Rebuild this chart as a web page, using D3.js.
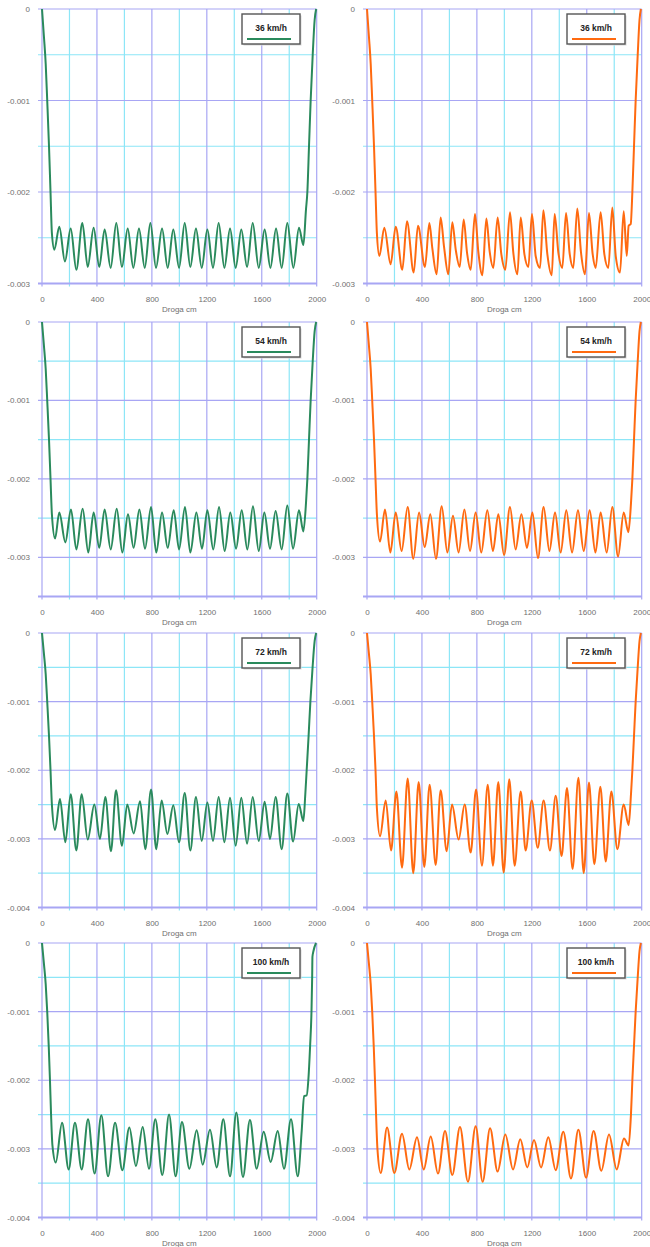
<!DOCTYPE html>
<html>
<head>
<meta charset="utf-8">
<title>Droga cm - 8 wykresow</title>
<script src="https://d3js.org/d3.v7.min.js"></script>
<style>
  body { margin: 0; background: #fff; }
  svg { display: block; font-family: "Liberation Sans", Arial, sans-serif; }
  .lbl { fill: #6f6f6f; font-size: 8px; }
  .leg { fill: #222; font-size: 8.5px; font-weight: bold; }
</style>
</head>
<body>
<svg width="650" height="1247"></svg>
<script>
// values of y are in units of 0.001
var UNIT = 0.001;
var speeds = ["36 km/h", "54 km/h", "72 km/h", "100 km/h"];
var xMajor = [0, 400, 800, 1200, 1600, 2000];
var xMinor = [200, 600, 1000, 1400, 1800];
var yMinByRow = [-3, -3.5, -4, -4];
var yMajorByRow = [[0, -1, -2, -3], [0, -1, -2, -3], [0, -1, -2, -3, -4], [0, -1, -2, -3, -4]];
var yMinorByRow = [[-0.5, -1.5, -2.5], [-0.5, -1.5, -2.5], [-0.5, -1.5, -2.5, -3.5], [-0.5, -1.5, -2.5, -3.5]];

// left column (green)
var green36 = [[0,0],[14,-0.3],[27,-0.6],[38,-1.0],[51,-1.5],[62,-2.0],[72,-2.45],[90,-2.63],[126,-2.38],[167,-2.76],[209,-2.40],[250,-2.85],[294,-2.34],[333,-2.82],[376,-2.39],[417,-2.82],[456,-2.41],[500,-2.83],[541,-2.34],[582,-2.82],[624,-2.40],[665,-2.83],[706,-2.40],[748,-2.83],[789,-2.34],[830,-2.83],[874,-2.40],[915,-2.83],[956,-2.41],[998,-2.83],[1039,-2.34],[1080,-2.82],[1121,-2.40],[1163,-2.83],[1204,-2.41],[1245,-2.83],[1286,-2.34],[1328,-2.83],[1369,-2.40],[1410,-2.83],[1451,-2.41],[1493,-2.82],[1534,-2.34],[1578,-2.83],[1621,-2.41],[1663,-2.83],[1704,-2.40],[1745,-2.83],[1786,-2.34],[1830,-2.83],[1871,-2.39],[1903,-2.58],[1922,-2.19],[1932,-2.0],[1944,-1.5],[1956,-1.0],[1971,-0.5],[1985,-0.12],[1996,0]];

var green54 = [[0,0],[14,-0.3],[27,-0.6],[38,-1.0],[51,-1.5],[62,-2.0],[72,-2.45],[95,-2.76],[126,-2.43],[170,-2.81],[211,-2.39],[250,-2.90],[296,-2.38],[337,-2.94],[376,-2.43],[417,-2.88],[456,-2.39],[500,-2.90],[544,-2.38],[585,-2.94],[626,-2.45],[667,-2.88],[709,-2.39],[750,-2.89],[794,-2.36],[832,-2.94],[874,-2.43],[915,-2.88],[959,-2.40],[998,-2.90],[1041,-2.36],[1080,-2.94],[1124,-2.43],[1165,-2.89],[1204,-2.40],[1247,-2.90],[1289,-2.36],[1330,-2.92],[1371,-2.43],[1413,-2.89],[1454,-2.40],[1495,-2.90],[1536,-2.35],[1578,-2.92],[1619,-2.43],[1660,-2.89],[1701,-2.41],[1745,-2.90],[1786,-2.34],[1828,-2.89],[1871,-2.40],[1903,-2.67],[1922,-2.31],[1932,-2.0],[1944,-1.5],[1956,-1.0],[1971,-0.5],[1985,-0.12],[1996,0]];

var green72 = [[0,0],[14,-0.3],[27,-0.6],[38,-1.0],[51,-1.5],[62,-2.0],[72,-2.5],[95,-2.87],[131,-2.42],[170,-3.05],[209,-2.35],[250,-3.17],[289,-2.35],[333,-3.01],[381,-2.50],[422,-3.00],[461,-2.39],[502,-3.18],[539,-2.29],[582,-3.10],[621,-2.50],[667,-2.92],[714,-2.45],[752,-3.15],[794,-2.28],[832,-3.15],[871,-2.44],[913,-2.93],[956,-2.51],[998,-3.05],[1039,-2.33],[1080,-3.17],[1121,-2.39],[1163,-3.03],[1204,-2.47],[1245,-3.03],[1286,-2.39],[1328,-3.05],[1369,-2.40],[1410,-3.10],[1451,-2.40],[1493,-3.07],[1534,-2.39],[1578,-3.03],[1621,-2.46],[1660,-3.00],[1701,-2.39],[1745,-3.15],[1786,-2.34],[1828,-3.04],[1869,-2.49],[1903,-2.74],[1917,-2.35],[1927,-2.0],[1941,-1.5],[1954,-1.0],[1970,-0.5],[1985,-0.12],[1996,0]];

var green100 = [[0,0],[14,-0.3],[27,-0.6],[38,-1.0],[49,-1.5],[58,-2.0],[66,-2.5],[76,-2.95],[100,-3.20],[146,-2.62],[194,-3.30],[240,-2.62],[289,-3.30],[335,-2.57],[383,-3.36],[432,-2.51],[481,-3.40],[532,-2.62],[585,-3.31],[636,-2.69],[684,-3.25],[733,-2.68],[779,-3.29],[825,-2.57],[876,-3.38],[925,-2.50],[973,-3.40],[1019,-2.61],[1073,-3.29],[1126,-2.73],[1170,-3.23],[1223,-2.72],[1272,-3.27],[1320,-2.57],[1369,-3.40],[1415,-2.47],[1463,-3.41],[1514,-2.58],[1563,-3.29],[1614,-2.75],[1665,-3.19],[1716,-2.74],[1762,-3.29],[1813,-2.57],[1862,-3.40],[1891,-2.73],[1908,-2.23],[1927,-2.22],[1939,-2.0],[1952,-1.5],[1962,-1.0],[1967,-0.5],[1969,-0.2],[1976,-0.12],[1995,0]];

// right column (orange)
var orange36 = [[0,0],[14,-0.3],[27,-0.6],[38,-1.0],[51,-1.5],[62,-2.0],[72,-2.45],[90,-2.70],[126,-2.39],[172,-2.79],[209,-2.38],[257,-2.85],[291,-2.32],[340,-2.88],[371,-2.37],[422,-2.82],[454,-2.34],[476,-2.62],[507,-2.90],[536,-2.28],[561,-2.60],[592,-2.90],[621,-2.33],[646,-2.63],[675,-2.82],[704,-2.30],[728,-2.66],[755,-2.85],[786,-2.24],[811,-2.66],[840,-2.91],[869,-2.29],[893,-2.65],[920,-2.83],[951,-2.28],[978,-2.68],[1007,-2.85],[1041,-2.22],[1065,-2.66],[1095,-2.90],[1119,-2.28],[1146,-2.68],[1175,-2.82],[1201,-2.24],[1228,-2.70],[1260,-2.83],[1284,-2.20],[1313,-2.68],[1345,-2.91],[1366,-2.24],[1393,-2.66],[1422,-2.83],[1449,-2.23],[1476,-2.68],[1502,-2.83],[1531,-2.18],[1558,-2.66],[1587,-2.90],[1616,-2.23],[1643,-2.68],[1665,-2.83],[1701,-2.22],[1728,-2.68],[1757,-2.83],[1786,-2.17],[1811,-2.70],[1842,-2.88],[1869,-2.21],[1891,-2.70],[1905,-2.37],[1920,-2.35],[1932,-2.0],[1944,-1.5],[1956,-1.0],[1971,-0.5],[1984,-0.12],[1994,0]];

var orange54 = [[0,0],[14,-0.3],[27,-0.6],[38,-1.0],[51,-1.5],[62,-2.0],[72,-2.45],[95,-2.80],[131,-2.39],[170,-2.94],[209,-2.43],[252,-2.92],[296,-2.36],[337,-3.02],[379,-2.43],[420,-2.87],[461,-2.45],[502,-3.02],[544,-2.35],[585,-2.94],[626,-2.47],[667,-2.94],[709,-2.39],[750,-2.92],[791,-2.43],[832,-2.94],[876,-2.40],[917,-2.92],[956,-2.45],[998,-2.97],[1041,-2.36],[1082,-2.90],[1124,-2.45],[1165,-2.88],[1204,-2.43],[1245,-3.01],[1286,-2.36],[1328,-2.92],[1369,-2.43],[1410,-2.94],[1451,-2.40],[1493,-2.94],[1536,-2.40],[1578,-2.92],[1621,-2.40],[1663,-2.94],[1701,-2.43],[1745,-2.94],[1786,-2.36],[1828,-2.99],[1869,-2.43],[1903,-2.68],[1922,-2.31],[1932,-2.0],[1944,-1.5],[1956,-1.0],[1971,-0.5],[1984,-0.12],[1994,0]];

var orange72 = [[0,0],[14,-0.3],[27,-0.6],[38,-1.0],[51,-1.5],[62,-2.0],[72,-2.55],[95,-2.96],[136,-2.44],[175,-3.17],[214,-2.31],[255,-3.42],[296,-2.12],[337,-3.50],[376,-2.17],[417,-3.41],[456,-2.21],[500,-3.38],[536,-2.29],[580,-3.18],[619,-2.50],[667,-3.01],[711,-2.50],[755,-3.20],[794,-2.28],[837,-3.39],[879,-2.21],[917,-3.39],[956,-2.17],[995,-3.49],[1036,-2.13],[1075,-3.39],[1119,-2.31],[1155,-3.17],[1199,-2.44],[1243,-3.13],[1286,-2.44],[1332,-3.17],[1374,-2.37],[1417,-3.25],[1456,-2.26],[1497,-3.44],[1539,-2.11],[1578,-3.50],[1616,-2.18],[1655,-3.37],[1699,-2.24],[1738,-3.33],[1779,-2.31],[1823,-3.15],[1869,-2.50],[1905,-2.80],[1922,-2.35],[1932,-2.0],[1944,-1.5],[1956,-1.0],[1971,-0.5],[1984,-0.12],[1994,0]];

var orange100 = [[0,0],[14,-0.3],[27,-0.6],[38,-1.0],[49,-1.5],[58,-2.0],[66,-2.5],[76,-3.0],[100,-3.35],[146,-2.69],[199,-3.35],[255,-2.78],[308,-3.30],[364,-2.83],[413,-3.30],[464,-2.82],[517,-3.36],[568,-2.74],[621,-3.38],[677,-2.68],[735,-3.48],[791,-2.67],[842,-3.48],[896,-2.70],[951,-3.33],[1007,-2.79],[1063,-3.30],[1116,-2.86],[1167,-3.27],[1216,-2.87],[1267,-3.27],[1320,-2.83],[1374,-3.31],[1429,-2.75],[1485,-3.43],[1539,-2.72],[1595,-3.42],[1650,-2.74],[1706,-3.32],[1762,-2.79],[1818,-3.30],[1871,-2.85],[1905,-2.95],[1922,-2.49],[1932,-2.0],[1944,-1.5],[1956,-1.0],[1971,-0.5],[1984,-0.12],[1994,0]];

var seriesByRow = [
    [green36, orange36],
    [green54, orange54],
    [green72, orange72],
    [green100, orange100]
];
var colors = ["#2a8a5c", "#ff6a10"];

// layout
var colLeft = [42, 367];
var rowTop = [9, 322, 633, 943];
var plotW = 274.7;
var plotH = 274.5;
var majorColor = "#a8a6f4";
var minorColor = "#8de6f7";

var svg = d3.select("svg");

rowTop.forEach(function(top, r) {
    colLeft.forEach(function(left, c) {
        var x = d3.scaleLinear().domain([0, 2000]).range([left, left + plotW]);
        var y = d3.scaleLinear().domain([yMinByRow[r], 0]).range([top + plotH, top]);
        var g = svg.append("g");
        var bottom = y(yMinByRow[r]);

        // horizontal grid
        g.selectAll(".hmin").data(yMinorByRow[r]).enter().append("line")
            .attr("x1", left - 4).attr("x2", left + plotW)
            .attr("y1", function(d) { return y(d); }).attr("y2", function(d) { return y(d); })
            .attr("stroke", minorColor).attr("stroke-width", 1.2);
        // vertical grid
        g.selectAll(".vmin").data(xMinor).enter().append("line")
            .attr("x1", function(d) { return x(d); }).attr("x2", function(d) { return x(d); })
            .attr("y1", top).attr("y2", bottom + 3)
            .attr("stroke", minorColor).attr("stroke-width", 1.2);
        g.selectAll(".vmaj").data(xMajor).enter().append("line")
            .attr("x1", function(d) { return x(d); }).attr("x2", function(d) { return x(d); })
            .attr("y1", top).attr("y2", bottom + 3)
            .attr("stroke", majorColor).attr("stroke-width", 1.2);
        g.selectAll(".hmaj").data(yMajorByRow[r].concat([yMinByRow[r]])).enter().append("line")
            .attr("x1", left - 4).attr("x2", left + plotW)
            .attr("y1", function(d) { return y(d); }).attr("y2", function(d) { return y(d); })
            .attr("stroke", majorColor).attr("stroke-width", 1.2);
        // bottom axis line a bit heavier
        g.append("line")
            .attr("x1", left - 4).attr("x2", left + plotW)
            .attr("y1", bottom).attr("y2", bottom)
            .attr("stroke", majorColor).attr("stroke-width", 2);

        // y labels
        var yAxis = g.append("g")
            .attr("transform", "translate(" + left + ",0)")
            .call(d3.axisLeft(y).tickValues(yMajorByRow[r]).tickSize(0).tickPadding(12)
                .tickFormat(function(d) { return d === 0 ? "0" : (d * UNIT).toFixed(3); }));
        yAxis.select(".domain").remove();
        yAxis.selectAll("text").attr("class", "lbl").attr("fill", null);

        // x labels
        var xAxis = g.append("g")
            .attr("transform", "translate(0," + bottom + ")")
            .call(d3.axisBottom(x).tickValues(xMajor).tickSize(0).tickPadding(13)
                .tickFormat(d3.format("d")));
        xAxis.select(".domain").remove();
        xAxis.selectAll("text").attr("class", "lbl").attr("fill", null);

        g.append("text")
            .attr("class", "lbl")
            .attr("x", left + plotW / 2)
            .attr("y", bottom + 28)
            .attr("text-anchor", "middle")
            .text("Droga cm");

        // curve
        var line = d3.line()
            .x(function(d) { return x(d[0]); })
            .y(function(d) { return y(d[1]); })
            .curve(d3.curveMonotoneX);
        g.append("path")
            .datum(seriesByRow[r][c])
            .attr("d", line)
            .attr("fill", "none")
            .attr("stroke", colors[c])
            .attr("stroke-width", 2)
            .attr("stroke-linejoin", "round");

        // legend
        var lx = left + 200, ly = top + 5;
        g.append("rect")
            .attr("x", lx + 1.5).attr("y", ly + 1.5)
            .attr("width", 58).attr("height", 30)
            .attr("fill", "#d8d8d8");
        g.append("rect")
            .attr("x", lx).attr("y", ly)
            .attr("width", 58).attr("height", 30)
            .attr("fill", "#fff").attr("stroke", "#555").attr("stroke-width", 1.4);
        g.append("text")
            .attr("class", "leg")
            .attr("x", lx + 29).attr("y", ly + 17)
            .attr("text-anchor", "middle")
            .text(speeds[r]);
        g.append("line")
            .attr("x1", lx + 5).attr("x2", lx + 49)
            .attr("y1", ly + 25).attr("y2", ly + 25)
            .attr("stroke", colors[c]).attr("stroke-width", 2);
    });
});
</script>
</body>
</html>
